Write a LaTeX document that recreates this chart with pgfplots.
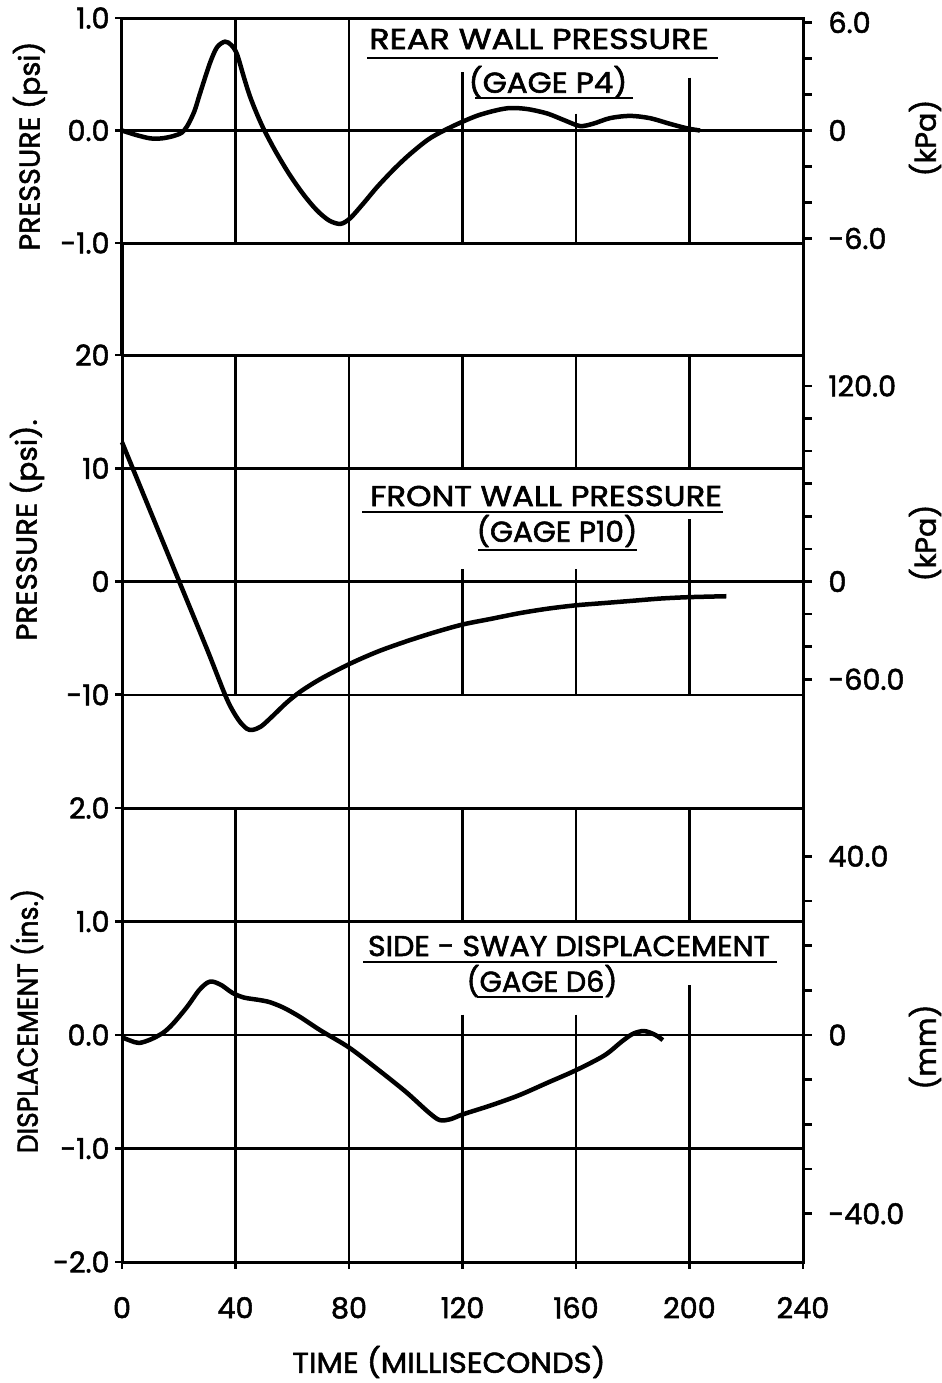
\documentclass[border=0pt]{standalone}
\usepackage{fontspec}
\setmainfont{Poppins}
\newfontfamily\tickfont{Poppins}[FakeBold=1.8]
\newfontfamily\titlefont{Poppins}[FakeBold=2]
\usepackage{graphicx}
\usepackage{pgfplots}
\pgfplotsset{compat=1.18}

\newcommand\lbl{\tickfont\fontsize{8.6}{10}\selectfont}
\newcommand\ttl{\titlefont\fontsize{8.6}{10}\selectfont}
\newcommand\hs[2]{\scalebox{#1}[1]{#2}}
\pgfplotsset{
  panel/.style={
    scale only axis, width=204.3pt, xmin=0, xmax=240, xtick=\empty,
    anchor=south west, clip=false,
    axis line style={line width=0.9pt},
    ytick pos=left, tick align=outside, major tick length=2pt,
    tick style={line width=0.8pt, black},
    ymajorgrids, grid style={line width=0.75pt, black},
    ticklabel style={font=\lbl},
    yticklabel style={xshift=1.8pt},
    /pgf/number format/assume math mode=true,
  },
  right panel/.style={
    scale only axis, width=204.3pt, xmin=0, xmax=240,
    anchor=south west, axis x line=none, axis y line*=right,
    axis line style={line width=0.9pt},
    tick align=outside, major tick length=2.6pt, minor tick length=2.6pt,
    tick style={line width=0.8pt, black},
    ticklabel style={font=\lbl},
    yticklabel style={xshift=1.5pt},
    /pgf/number format/assume math mode=true,
  },
  curve/.style={black, line width=1.35pt, smooth, tension=0.5, mark=none},
}
\tikzset{gl/.style={black, line width=0.75pt}}

\begin{document}
\begin{tikzpicture}
\useasboundingbox (0,0) rectangle (282.6pt,-414.9pt);

% ---- rear wall pressure
\begin{axis}[panel, at={(36.6pt,-72.9pt)}, height=67.5pt,
  ymin=-1, ymax=1, ytick={-1,0,1}, yticklabels={-1.0,0.0,1.0}]
\draw[gl] (axis cs:40,1) -- (axis cs:40,-1);
\draw[gl] (axis cs:80,1) -- (axis cs:80,-1);
\draw[gl] (axis cs:120,0.52) -- (axis cs:120,-1);
\draw[gl] (axis cs:160,0.15) -- (axis cs:160,-1);
\draw[gl] (axis cs:200,0.47) -- (axis cs:200,-1);
\addplot[curve] coordinates {
 (0,0) (5,-0.04) (10,-0.07) (14,-0.07) (18,-0.05) (21,-0.02) (23,0.04)
 (25.5,0.17) (27.5,0.33) (31,0.6) (33.5,0.74) (36.3,0.79) (38.5,0.76)
 (40.5,0.68) (43,0.47) (45,0.31) (47.5,0.15) (50,0.01) (54,-0.18) (59,-0.39)
 (64,-0.57) (68.7,-0.71) (73,-0.80) (77,-0.83) (80.4,-0.78) (85,-0.65)
 (90,-0.5) (96,-0.34) (101.5,-0.21) (108.5,-0.07) (116.7,0.04) (125,0.13)
 (132,0.18) (137,0.2) (143,0.19) (150,0.15) (156,0.09) (161.4,0.04)
 (166,0.06) (172,0.11) (179,0.13) (186,0.11) (193,0.06) (199,0.02) (203.7,0.0)};
\end{axis}
\begin{axis}[right panel, at={(36.6pt,-72.9pt)}, height=67.5pt,
  ymin=-6.25, ymax=6.25, ytick={-6,0,6}, yticklabels={-6.0,0,6.0},
  minor ytick={-4,-2,2,4}]
\addplot[draw=none] coordinates {(0,0)};
\end{axis}

% ---- front wall pressure
\begin{axis}[panel, at={(36.6pt,-242.4pt)}, height=135.9pt,
  ymin=-20, ymax=20, ytick={-20,-10,0,10,20}, yticklabels={,-10,0,10,20}]
\draw[gl] (axis cs:40,20) -- (axis cs:40,-10);
\draw[gl] (axis cs:80,20) -- (axis cs:80,-20);
\draw[gl] (axis cs:120,20) -- (axis cs:120,10);
\draw[gl] (axis cs:160,20) -- (axis cs:160,10);
\draw[gl] (axis cs:200,20) -- (axis cs:200,10);
\draw[gl] (axis cs:120,1.1) -- (axis cs:120,-10);
\draw[gl] (axis cs:160,1.1) -- (axis cs:160,-10);
\draw[gl] (axis cs:200,5.5) -- (axis cs:200,-10);
\addplot[curve] coordinates {
 (0,12.3) (10,6.2) (20,0.1) (30,-6.0) (37,-10.4) (41,-12.2) (44,-13.0)
 (46,-13.1) (49,-12.8) (53,-11.9) (58,-10.7) (63,-9.7) (70,-8.6) (80,-7.3)
 (90,-6.2) (100,-5.3) (110,-4.5) (120,-3.8) (130,-3.3) (140,-2.8) (150,-2.4)
 (160,-2.1) (170,-1.9) (180,-1.7) (190,-1.5) (200,-1.38) (213,-1.3)};
\end{axis}
\begin{axis}[right panel, at={(36.6pt,-242.4pt)}, height=135.9pt,
  ymin=-139, ymax=139, ytick={-60,0,120}, yticklabels={-60.0,0,120.0},
  minor ytick={-40,-20,20,40,60,80,100}]
\addplot[draw=none] coordinates {(0,0)};
\end{axis}

% ---- side-sway displacement
\begin{axis}[panel, at={(36.6pt,-378.6pt)}, height=136.2pt,
  ymin=-2, ymax=2, ytick={-2,-1,0,1,2}, yticklabels={-2.0,-1.0,0.0,1.0,2.0},
  xtick={0,40,...,240}, xticklabels={0,40,80,120,160,200,240},
  xtick pos=bottom, xticklabel style={yshift=-5pt}]
\draw[gl] (axis cs:40,2) -- (axis cs:40,-2);
\draw[gl] (axis cs:80,2) -- (axis cs:80,-2);
\draw[gl] (axis cs:120,2) -- (axis cs:120,1);
\draw[gl] (axis cs:160,2) -- (axis cs:160,1);
\draw[gl] (axis cs:200,2) -- (axis cs:200,1);
\draw[gl] (axis cs:120,0.18) -- (axis cs:120,-2);
\draw[gl] (axis cs:160,0.18) -- (axis cs:160,-2);
\draw[gl] (axis cs:200,0.44) -- (axis cs:200,-2);
\addplot[curve] coordinates {
 (0,-0.02) (3,-0.05) (6,-0.07) (10,-0.04) (14.5,0.02) (18,0.1) (23,0.25)
 (27,0.39) (30,0.46) (32,0.47) (35,0.44) (39,0.37) (43,0.33) (48,0.31)
 (52,0.29) (57,0.24) (62.7,0.16) (70,0.04) (80,-0.11) (90,-0.3) (100,-0.5)
 (108,-0.68) (112,-0.75) (116,-0.74) (120,-0.70) (130,-0.62) (140,-0.53)
 (150,-0.42) (160,-0.31) (170,-0.18) (176,-0.06) (180,0.01) (184,0.035)
 (188,0.0) (190.6,-0.045)};
\end{axis}
\begin{axis}[right panel, at={(36.6pt,-378.6pt)}, height=136.2pt,
  ymin=-50.8, ymax=50.8, ytick={-40,0,40}, yticklabels={-40.0,0,40.0},
  minor ytick={-30,-20,-10,10,20,30}]
\addplot[draw=none] coordinates {(0,0)};
\end{axis}

% ---- frame lines in the gap, titles and labels (pixel units)
\begin{scope}[x=0.3pt, y=-0.3pt, font=\lbl]
\draw[line width=1.1pt] (122,243) -- (122,355);
\draw[line width=0.9pt] (803,243) -- (803,355);

\node[font=\ttl] at (539,39) {\hs{1.17}{REAR WALL PRESSURE}};
\draw[line width=0.8pt] (367,58) -- (718,58);
\node[font=\ttl] at (548,82) {\hs{1.08}{(GAGE P4)}};
\draw[line width=0.8pt] (475,98) -- (633,98);

\node[font=\ttl] at (546,496) {\hs{1.13}{FRONT WALL PRESSURE}};
\draw[line width=0.8pt] (362,512) -- (723,512);
\node[font=\ttl] at (557,531) {\hs{1.03}{(GAGE P10)}};
\draw[line width=0.8pt] (478,550) -- (637,550);

\node[font=\ttl] at (569,946) {\hs{1.05}{SIDE - SWAY DISPLACEMENT}};
\draw[line width=0.8pt] (363,962) -- (777,962);
\node[font=\ttl] at (542,981) {(GAGE D6)};
\draw[line width=0.8pt] (477,997) -- (603,997);

\node[rotate=90] at (30,146) {PRESSURE (psi)};
\node[rotate=90] at (27,530) {\hs{1.03}{PRESSURE (psi).}};
\node[rotate=90] at (27,1021) {\hs{0.93}{DISPLACEMENT (ins.)}};
\node[rotate=90] at (925,138) {(kPa)};
\node[rotate=90] at (925,543) {(kPa)};
\node[rotate=90] at (925,1047) {(mm)};
\node at (449,1362) {\hs{1.07}{TIME (MILLISECONDS)}};
\end{scope}
\end{tikzpicture}
\end{document}
